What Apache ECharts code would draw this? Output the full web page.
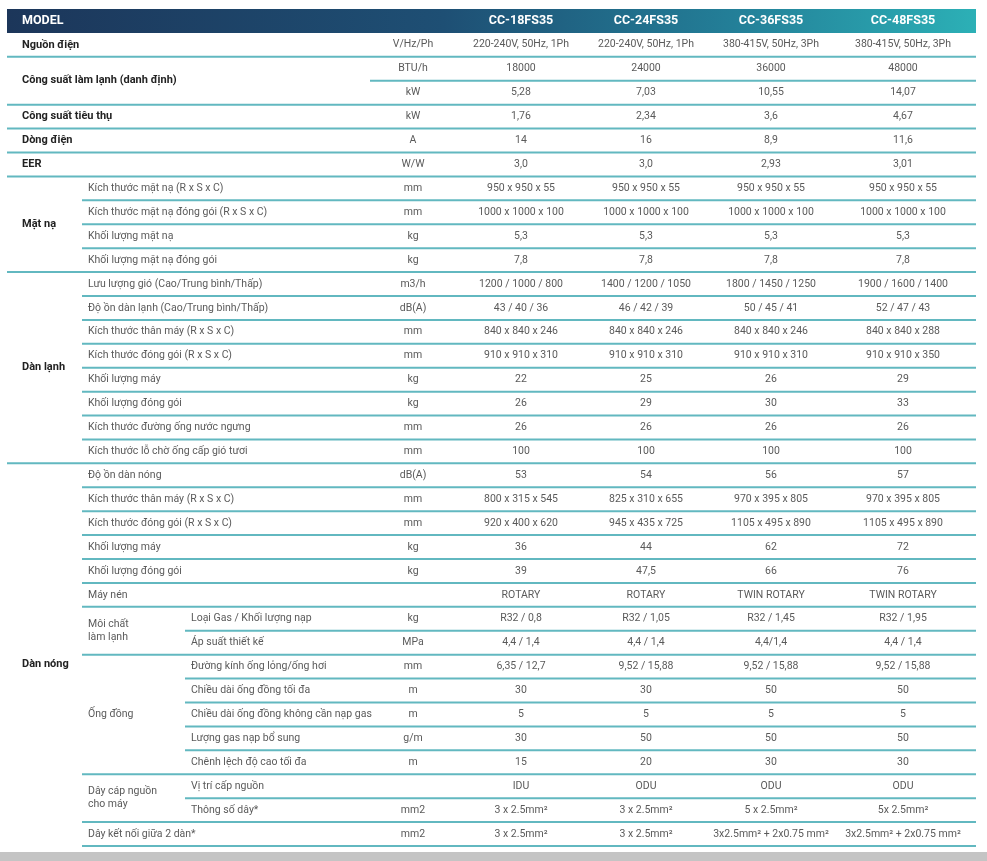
<!DOCTYPE html>
<html>
<head>
<meta charset="utf-8"/>
<script src="https://cdn.jsdelivr.net/npm/echarts@6/dist/echarts.min.js"></script>
<style>
  html,body{margin:0;padding:0;background:#fff;}
  #chart{width:987px;height:861px;}
</style>
</head>
<body>
<div id="chart"></div>
<script>
// model columns
var models = ['CC-18FS35', 'CC-24FS35', 'CC-36FS35', 'CC-48FS35'];

// unit per row (34 rows)
var units = ['V/Hz/Ph','BTU/h','kW','kW','A','W/W',
  'mm','mm','kg','kg',
  'm3/h','dB(A)','mm','mm','kg','kg','mm','mm',
  'dB(A)','mm','mm','kg','kg','','kg','MPa','mm','m','m','g/m','m','','mm2','mm2'];

var cc18 = ['220-240V, 50Hz, 1Ph','18000','5,28','1,76','14','3,0',
  '950 x 950 x 55','1000 x 1000 x 100','5,3','7,8',
  '1200 / 1000 / 800','43 / 40 / 36','840 x 840 x 246','910 x 910 x 310','22','26','26','100',
  '53','800 x 315 x 545','920 x 400 x 620','36','39','ROTARY','R32 / 0,8','4,4 / 1,4','6,35 / 12,7','30','5','30','15','IDU','3 x 2.5mm²','3 x 2.5mm²'];
var cc24 = ['220-240V, 50Hz, 1Ph','24000','7,03','2,34','16','3,0',
  '950 x 950 x 55','1000 x 1000 x 100','5,3','7,8',
  '1400 / 1200 / 1050','46 / 42 / 39','840 x 840 x 246','910 x 910 x 310','25','29','26','100',
  '54','825 x 310 x 655','945 x 435 x 725','44','47,5','ROTARY','R32 / 1,05','4,4 / 1,4','9,52 / 15,88','30','5','50','20','ODU','3 x 2.5mm²','3 x 2.5mm²'];
var cc36 = ['380-415V, 50Hz, 3Ph','36000','10,55','3,6','8,9','2,93',
  '950 x 950 x 55','1000 x 1000 x 100','5,3','7,8',
  '1800 / 1450 / 1250','50 / 45 / 41','840 x 840 x 246','910 x 910 x 310','26','30','26','100',
  '56','970 x 395 x 805','1105 x 495 x 890','62','66','TWIN ROTARY','R32 / 1,45','4,4/1,4','9,52 / 15,88','50','5','50','30','ODU','5 x 2.5mm²','3x2.5mm² + 2x0.75 mm²'];
var cc48 = ['380-415V, 50Hz, 3Ph','48000','14,07','4,67','11,6','3,01',
  '950 x 950 x 55','1000 x 1000 x 100','5,3','7,8',
  '1900 / 1600 / 1400','52 / 47 / 43','840 x 840 x 288','910 x 910 x 350','29','33','26','100',
  '57','970 x 395 x 805','1105 x 495 x 890','72','76','TWIN ROTARY','R32 / 1,95','4,4 / 1,4','9,52 / 15,88','50','5','50','30','ODU','5x 2.5mm²','3x2.5mm² + 2x0.75 mm²'];

// [label, firstRow, endRow]
var mainLabels = [
  ['Nguồn điện',0,1],['Công suất làm lạnh (danh định)',1,3],['Công suất tiêu thụ',3,4],
  ['Dòng điện',4,5],['EER',5,6],['Mặt nạ',6,10],['Dàn lạnh',10,18],['Dàn nóng',18,34.8]
];
var subLabels = [
  ['Kích thước mặt nạ (R x S x C)',6,7],['Kích thước mặt nạ đóng gói (R x S x C)',7,8],
  ['Khối lượng mặt nạ',8,9],['Khối lượng mặt nạ đóng gói',9,10],
  ['Lưu lượng gió (Cao/Trung bình/Thấp)',10,11],['Độ ồn dàn lạnh (Cao/Trung bình/Thấp)',11,12],
  ['Kích thước thân máy (R x S x C)',12,13],['Kích thước đóng gói (R x S x C)',13,14],
  ['Khối lượng máy',14,15],['Khối lượng đóng gói',15,16],
  ['Kích thước đường ống nước ngưng',16,17],['Kích thước lỗ chờ ống cấp gió tươi',17,18],
  ['Độ ồn dàn nóng',18,19],['Kích thước thân máy (R x S x C)',19,20],
  ['Kích thước đóng gói (R x S x C)',20,21],['Khối lượng máy',21,22],
  ['Khối lượng đóng gói',22,23],['Máy nén',23,24],
  ['Môi chất\nlàm lạnh',24,26],['Ống đồng',26,31],['Dây cáp nguồn\ncho máy',31,33],
  ['Dây kết nối giữa 2 dàn*',33,34]
];
var subSubLabels = [
  ['Loại Gas / Khối lượng nạp',24],['Áp suất thiết kế',25],['Đường kính ống lỏng/ống hơi',26],
  ['Chiều dài ống đồng tối đa',27],['Chiều dài ống đồng không cần nạp gas',28],
  ['Lượng gas nạp bổ sung',29],['Chênh lệch độ cao tối đa',30],
  ['Vị trí cấp nguồn',31],['Thông số dây*',32]
];

// row boundaries that get a rule, grouped by where the rule starts
var rulesFull = [1,3,4,5,6,10,18];
var rulesUnit = [2];
var rulesSub = [7,8,9,11,12,13,14,15,16,17,19,20,21,22,23,24,26,31,33,34];
var rulesSubSub = [25,27,28,29,30,32];

// layout
var X_LEFT = 7, X_RIGHT = 976;
var X_MAIN = 22, X_SUB = 88, X_SUBSUB = 191, X_UNIT = 413;
var X_MODEL = [521, 646, 771, 903];
var FONT = 'Roboto, "Noto Sans", sans-serif';

var cells = [];   // [x, y, text, kind]
cells.push([X_MAIN, -0.5, 'MODEL', 'head']);
models.forEach(function(m, i){ cells.push([X_MODEL[i], -0.5, m, 'headc']); });
mainLabels.forEach(function(l){ cells.push([X_MAIN, (l[1]+l[2])/2, l[0], 'main']); });
subLabels.forEach(function(l){ cells.push([X_SUB, (l[1]+l[2])/2, l[0], 'sub']); });
subSubLabels.forEach(function(l){ cells.push([X_SUBSUB, l[1]+0.5, l[0], 'sub']); });
units.forEach(function(u, r){ if (u) cells.push([X_UNIT, r+0.5, u, 'val']); });
[cc18, cc24, cc36, cc48].forEach(function(col, i){
  col.forEach(function(v, r){ cells.push([X_MODEL[i], r+0.5, v, 'val']); });
});

var rules = [];
rulesFull.forEach(function(r){ rules.push([X_LEFT, X_RIGHT, r]); });
rulesUnit.forEach(function(r){ rules.push([370, X_RIGHT, r]); });
rulesSub.forEach(function(r){ rules.push([82, X_RIGHT, r]); });
rulesSubSub.forEach(function(r){ rules.push([185, X_RIGHT, r]); });

var styles = {
  head:  {fill:'#ffffff', font:'bold 12.5px ' + FONT, align:'left'},
  headc: {fill:'#ffffff', font:'bold 12.5px ' + FONT, align:'center'},
  main:  {fill:'#222222', font:'bold 11px ' + FONT, align:'left'},
  sub:   {fill:'#5a5a5a', font:'10.5px ' + FONT, align:'left'},
  val:   {fill:'#5a5a5a', font:'10.5px ' + FONT, align:'center'}
};

var chart = echarts.init(document.getElementById('chart'), null, {renderer:'canvas'});
chart.setOption({
  animation: false,
  grid: {left:0, right:0, top:9, bottom:15},
  xAxis: {type:'value', min:0, max:987, show:false},
  yAxis: {type:'value', min:-1, max:34, inverse:true, show:false},
  graphic: [{
    type:'rect', left:0, bottom:0, shape:{width:987, height:9}, style:{fill:'#c4c4c4'}
  }],
  series: [
    {
      type:'custom', name:'header', silent:true,
      data:[[X_LEFT, X_RIGHT, -1, 0]],
      renderItem: function(params, api){
        var p0 = api.coord([api.value(0), api.value(2)]);
        var p1 = api.coord([api.value(1), api.value(3)]);
        return {type:'rect', shape:{x:p0[0], y:p0[1], width:p1[0]-p0[0], height:p1[1]-p0[1]},
          style:{fill:new echarts.graphic.LinearGradient(0,0,1,0,[
            {offset:0, color:'#1c365a'},{offset:0.45, color:'#1e4f74'},
            {offset:0.75, color:'#237f98'},{offset:1, color:'#2cb0b6'}])}};
      }
    },
    {
      type:'custom', name:'rules', silent:true,
      data: rules,
      renderItem: function(params, api){
        var p0 = api.coord([api.value(0), api.value(2)]);
        var p1 = api.coord([api.value(1), api.value(2)]);
        return {type:'line', shape:{x1:p0[0], y1:p0[1], x2:p1[0], y2:p1[1]},
          style:{stroke:'#62b8c0', lineWidth:2}};
      }
    },
    {
      type:'custom', name:'cells', silent:true,
      data: cells.map(function(c){ return [c[0], c[1]]; }),
      renderItem: function(params, api){
        var c = cells[params.dataIndex];
        var p = api.coord([c[0], c[1]]);
        var s = styles[c[3]];
        return {type:'text', x:p[0], y:p[1],
          style:{text:c[2], fill:s.fill, font:s.font, align:s.align, verticalAlign:'middle',
                 textAlign:s.align, textVerticalAlign:'middle', lineHeight:13}};
      }
    }
  ]
});
</script>
</body>
</html>
